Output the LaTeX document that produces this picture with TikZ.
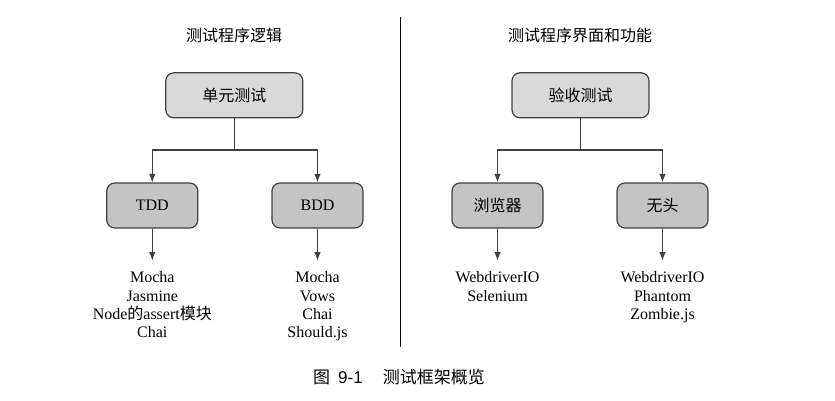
\documentclass[tikz,border=0pt]{standalone}
\usepackage{fontspec}
\setmainfont{Liberation Serif}
\setsansfont{Liberation Sans}
\newfontfamily\cjk{Noto Sans CJK SC}
\usepackage{tikz}
\usetikzlibrary{positioning,arrows.meta}
\definecolor{boxline}{HTML}{404040}
\definecolor{topfill}{HTML}{D9D9D9}
\definecolor{subfill}{HTML}{C4C4C4}

\begin{document}
\begin{tikzpicture}[x=1pt,y=1pt,
		font=\fontsize{16}{18.3}\selectfont,
		base/.style={
		  draw=boxline,
		  line width=1.2pt,
		  rounded corners=8pt,
		  align=center
		},
		topbox/.style={
		  base,
		  fill=topfill,
		  minimum width=137pt,
		  minimum height=45pt
		},
		subbox/.style={
		  base,
		  fill=subfill,
		  minimum width=91pt,
		  minimum height=45pt
		},
		lst/.style={
		  align=center,
		  font=\fontsize{16}{18.3}\rmfamily,
		  inner xsep=0pt,
		  inner ysep=11pt
		},
		conn/.style={
		  draw=boxline,
		  line width=1.1pt
		},
		arr/.style={
		  conn,
		  -{Latex[length=8.5pt,width=6.5pt]}
		},
		node distance=32pt
		]
		\useasboundingbox (0,0) rectangle (835,400);

		% left half
		\node at (234,365) (ltitle) {\cjk 测试程序逻辑};
		\node[topbox] at (234.3,304.7) (unit) {\cjk 单元测试};
		\node[subbox] at (152.3,194.5) (tdd) {TDD};
		\node[subbox] at (317.5,194.5) (bdd) {BDD};
		\node[lst,below=of tdd] (tddlst)
		  {Mocha\\Jasmine\\Node{\cjk 的}assert{\cjk 模块}\\Chai};
		\node[lst,below=of bdd] (bddlst)
		  {Mocha\\Vows\\Chai\\Should.js};

		% right half
		\node at (580,365) (rtitle) {\cjk 测试程序界面和功能};
		\node[topbox] at (580.5,304.7) (accept) {\cjk 验收测试};
		\node[subbox] at (497.5,194.5) (browser) {\cjk 浏览器};
		\node[subbox] at (662.5,194.5) (headless) {\cjk 无头};
		\node[lst,below=of browser] (browserlst)
		  {WebdriverIO\\Selenium};
		\node[lst,below=of headless] (headlesslst)
		  {WebdriverIO\\Phantom\\Zombie.js};

		% connectors
		\coordinate (ujoin) at (unit.south |- 0,250);
		\coordinate (ajoin) at (accept.south |- 0,250);
		\draw[conn] (unit) -- (ujoin);
		\draw[arr] (ujoin) -| (tdd);
		\draw[arr] (ujoin) -| (bdd);
		\draw[conn] (accept) -- (ajoin);
		\draw[arr] (ajoin) -| (browser);
		\draw[arr] (ajoin) -| (headless);
		\draw[arr] (tdd) -- (tddlst);
		\draw[arr] (bdd) -- (bddlst);
		\draw[arr] (browser) -- (browserlst);
		\draw[arr] (headless) -- (headlesslst);

		% divider and caption
		\coordinate (divtop) at (400.7,383);
		\coordinate (divbot) at (400.7,53);
		\draw[line width=1pt] (divtop) -- (divbot);
		\node at (399,23) (caption)
		  {\fontsize{17}{20}\selectfont{\cjk 图}\hspace{8pt}{\sffamily 9-1}\hspace{20pt}{\cjk 测试框架概览}};
	\end{tikzpicture}
\end{document}
